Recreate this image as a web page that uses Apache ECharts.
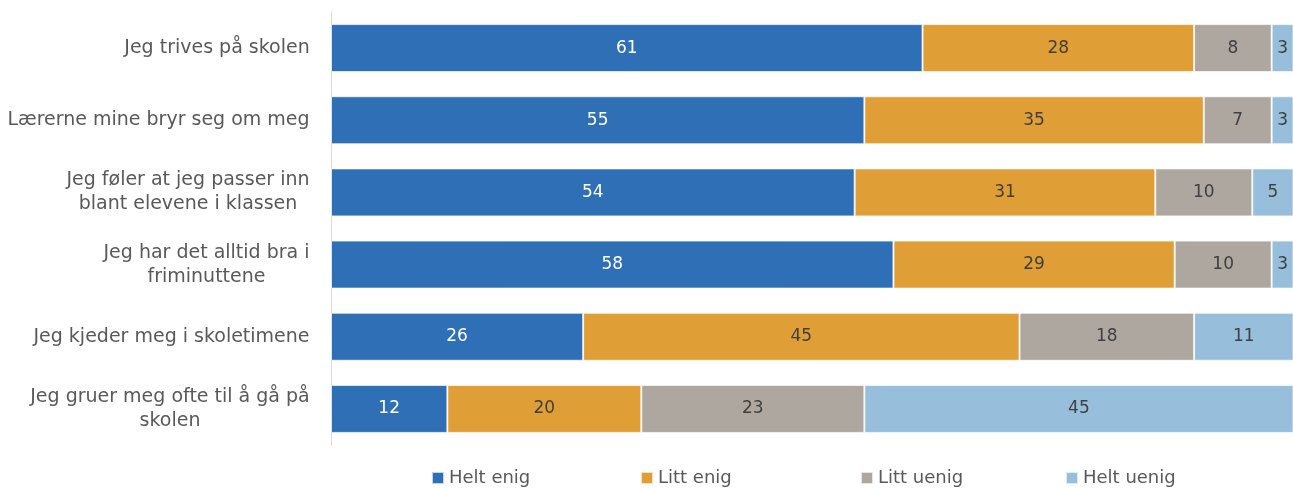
<!DOCTYPE html>
<html><head><meta charset="utf-8">
<script src="https://cdn.jsdelivr.net/npm/echarts@6/dist/echarts.min.js"></script>
<style>html,body{margin:0;padding:0;background:#fff}#c{width:1293px;height:488px}</style>
</head><body><div id="c"></div>
<script>
var categories = ["Jeg trives på skolen","Lærerne mine bryr seg om meg","Jeg føler at jeg passer inn\nblant elevene i klassen","Jeg har det alltid bra i\nfriminuttene","Jeg kjeder meg i skoletimene","Jeg gruer meg ofte til å gå på\nskolen"];
var seriesNames = ["Helt enig","Litt enig","Litt uenig","Helt uenig"];
var heltEnig = [61,55,54,58,26,12];
var littEnig = [28,35,31,29,45,20];
var littUenig = [8,7,10,10,18,23];
var heltUenig = [3,3,5,3,11,45];
var colors = ["#2e6fb5","#df9e36","#aea7a0","#97bfdb"];
var labelColors = ["#ffffff","#404040","#404040","#404040"];
var data = [heltEnig, littEnig, littUenig, heltUenig];
var font = "DejaVu Sans";
var catFontSize = 19;
// measure each label's widest line so lines center within the right-aligned block
var cv = document.createElement('canvas').getContext('2d');
cv.font = catFontSize + 'px "' + font + '"';
var rich = {};
categories.forEach(function(c, i){
  var w = Math.max.apply(null, c.split('\n').map(function(l){return cv.measureText(l).width;}));
  rich['c'+i] = {width: Math.ceil(w), align:'center', fontSize:catFontSize, fontFamily:font, color:'#595959', lineHeight:24};
});
var legendLefts = [431, 640, 860, 1065];
var chart = echarts.init(document.getElementById('c'), null, {renderer:'canvas'});
chart.setOption({
  animation:false,
  textStyle:{fontFamily:font},
  grid:{left:331,right:0,top:12,bottom:43,containLabel:false,outerBoundsMode:'none'},
  xAxis:{type:'value',min:0,max:99.2,show:false},
  yAxis:{type:'category',data:categories,inverse:true,
    axisLine:{show:true,lineStyle:{color:'#d9d9d9',width:1}},
    axisTick:{show:false},
    axisLabel:{color:'#595959',fontSize:catFontSize,fontFamily:font,margin:21,lineHeight:24,align:'right',
      formatter:function(v, idx){ return v.split('\n').map(function(l){return '{c'+idx+'|'+l+'}';}).join('\n'); },
      rich:rich}},
  legend: seriesNames.map(function(n, i){ return {data:[n],left:legendLefts[i],top:469,padding:0,itemWidth:12,itemHeight:12,icon:'rect',
    textStyle:{color:'#595959',fontSize:18,fontFamily:font}}; }),
  series: data.map(function(d,i){return {
    name:seriesNames[i],type:'bar',stack:'total',data:d,barWidth:48,
    itemStyle:{color:colors[i],borderColor:'rgba(255,255,255,0.7)',borderWidth:1},
    label:{show:true,position:'inside',color:labelColors[i],fontSize:17,fontFamily:font}
  };})
});
</script></body></html>
